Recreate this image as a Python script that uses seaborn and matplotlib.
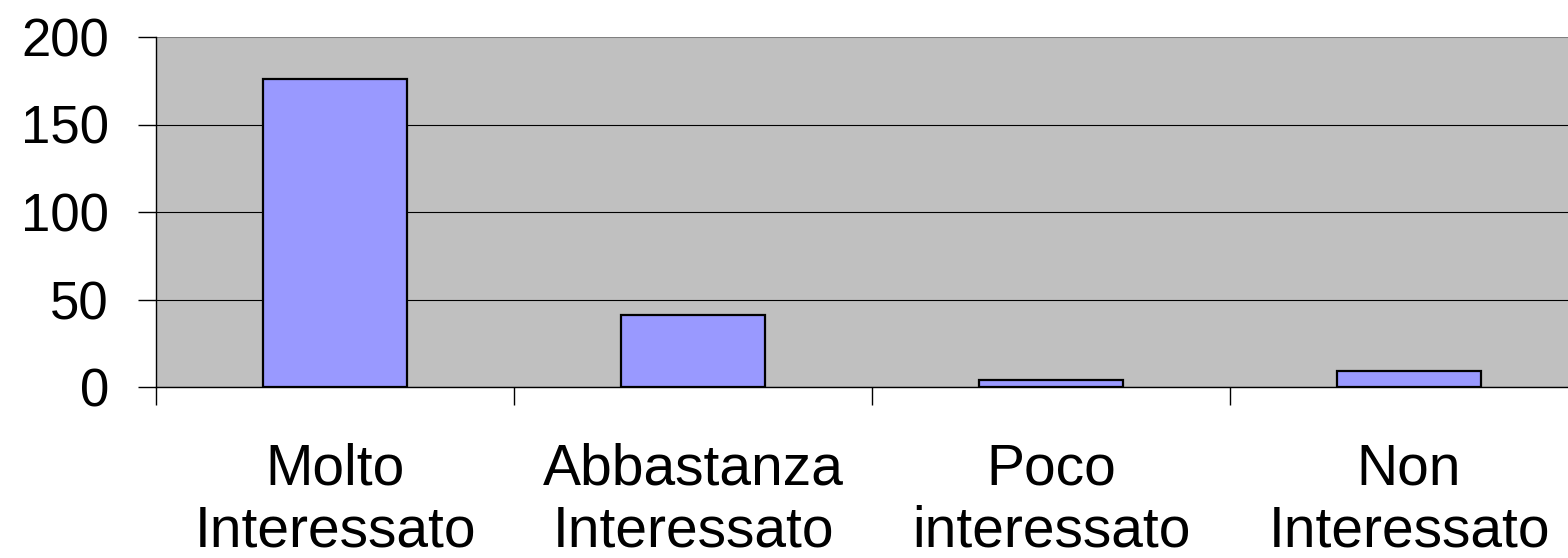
import matplotlib
matplotlib.use("Agg")
import matplotlib.pyplot as plt
import seaborn as sns
import pandas as pd

categories = ["Molto\nInteressato", "Abbastanza\nInteressato", "Poco\ninteressato", "Non\nInteressato"]
values = [176, 41, 4, 9]

df = pd.DataFrame({"categoria": categories, "valore": values})

sns.set_style("white")
plt.rcParams['font.family'] = ['Liberation Sans', 'DejaVu Sans']
plt.rcParams['text.color'] = 'black'
plt.rcParams['xtick.color'] = 'black'
plt.rcParams['ytick.color'] = 'black'

fig = plt.figure(figsize=(15.68, 5.58), dpi=100)
# plot area runs past the right edge of the picture, as in the original
ax = fig.add_axes([156 / 1568, 1 - 387 / 558, 1432 / 1568, 350 / 558])
ax.set_facecolor('#C0C0C0')

sns.barplot(data=df, x="categoria", y="valore", color='#9999FF', width=0.4,
            edgecolor='black', linewidth=1.6, saturation=1, ax=ax, zorder=3)

ax.set_ylim(0, 200)
ax.set_xlim(-0.5, 3.5)
ax.set_yticks([0, 50, 100, 150, 200])
ax.yaxis.grid(True, color='black', linewidth=0.8, zorder=0)
ax.set_axisbelow(True)
# top border of the plot area is grey in the original
ax.get_ygridlines()[-1].set_color('#808080')
ax.get_ygridlines()[-1].set_linewidth(1.5)

ax.set_xlabel('')
ax.set_ylabel('')

for side in ['top', 'right']:
    ax.spines[side].set_visible(False)
ax.spines['left'].set_color('black')
ax.spines['left'].set_linewidth(1.0)
ax.spines['bottom'].set_color('black')
ax.spines['bottom'].set_linewidth(1.0)

ax.tick_params(axis='y', labelsize=38, length=13, width=1.0, color='black',
               labelcolor='black', pad=21, left=True)
ax.tick_params(axis='x', which='major', labelsize=41, length=0, pad=40,
               labelcolor='black')
ax.set_xticks([-0.5, 0.5, 1.5, 2.5], minor=True)
ax.tick_params(axis='x', which='minor', length=13, width=1.0, color='black', bottom=True)

for lbl in ax.get_xticklabels():
    lbl.set_linespacing(1.2)

plt.savefig('out.png', dpi=100)
